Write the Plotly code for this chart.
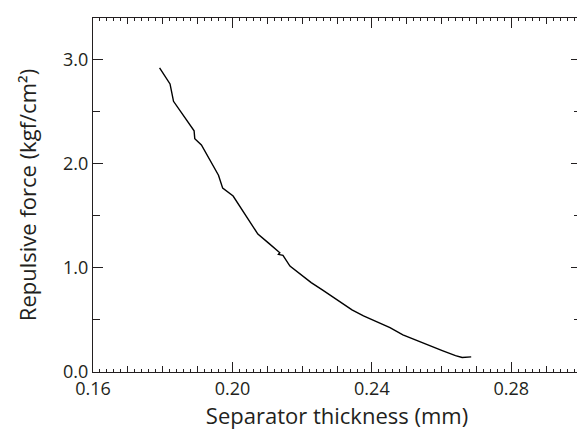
import plotly.graph_objects as go

# Data
thickness = [0.1791, 0.1821, 0.1831, 0.1890, 0.1892, 0.1911, 0.1960, 0.1972,
             0.2002, 0.2073, 0.2103, 0.2136, 0.2132, 0.2145, 0.2165, 0.2198,
             0.2205, 0.2226, 0.2259, 0.2292, 0.2320, 0.2343, 0.2376, 0.2414,
             0.2452, 0.2489, 0.2527, 0.2564, 0.2602, 0.2640, 0.2659, 0.2685]
force = [2.92, 2.767, 2.60, 2.317, 2.24, 2.18, 1.89, 1.766,
         1.69, 1.325, 1.24, 1.145, 1.13, 1.12, 1.017, 0.934,
         0.915, 0.859, 0.786, 0.711, 0.655, 0.596, 0.539, 0.479,
         0.426, 0.357, 0.305, 0.252, 0.206, 0.158, 0.140, 0.145]

x_major = [0.16, 0.20, 0.24, 0.28]
x_mid = [round(0.16 + 0.01 * i, 2) for i in range(15)]
x_labels = ["0.16", "0.20", "0.24", "0.28"]
y_major = [0.0, 1.0, 2.0, 3.0]
y_mid = [0.0, 0.5, 1.0, 1.5, 2.0, 2.5, 3.0]
y_labels = ["0.0", "1.0", "2.0", "3.0"]

X_RANGE = [0.16, 0.30]
Y_RANGE = [0.0, 3.4]
INK = "#231f20"
FONT = dict(family="Open Sans", size=18, color=INK)

fig = go.Figure()
fig.add_trace(go.Scatter(x=thickness, y=force, mode="lines",
                         line=dict(color="black", width=1.4),
                         showlegend=False, hoverinfo="skip"))
# empty traces to activate overlay axes
for xa, ya in [("x2", "y"), ("x3", "y"), ("x4", "y"),
               ("x", "y2"), ("x", "y3"), ("x", "y4")]:
    fig.add_trace(go.Scatter(x=[], y=[], xaxis=xa, yaxis=ya, showlegend=False))

mid_text = [next((lab for v, lab in zip(x_major, x_labels) if abs(v - t) < 1e-9), "")
            for t in x_mid]
ymid_text = [next((lab for v, lab in zip(y_major, y_labels) if abs(v - t) < 1e-9), "")
             for t in y_mid]

common = dict(showgrid=False, zeroline=False, ticks="inside", tickcolor=INK,
              tickwidth=1, automargin=False)

fig.update_layout(
    width=585, height=429,
    margin=dict(l=85, r=12, t=10, b=65),
    paper_bgcolor="white", plot_bgcolor="white",
    font=FONT,
    xaxis=dict(range=X_RANGE, tickvals=x_mid, ticktext=mid_text, ticklen=6,
               minor=dict(dtick=0.002, tick0=0.16, ticks="inside", ticklen=3,
                          tickcolor=INK, tickwidth=1, showgrid=False),
               showline=True, linecolor=INK, linewidth=1, mirror=True,
               title=dict(text="Separator thickness (mm)", standoff=0),
               tickfont=FONT, **common),
    xaxis2=dict(range=X_RANGE, overlaying="x", anchor="y", side="bottom",
                tickvals=x_major, ticklen=10, showticklabels=False, showline=False, **common),
    xaxis3=dict(range=X_RANGE, overlaying="x", anchor="y", side="top",
                tickvals=x_mid, ticklen=6, showticklabels=False, showline=False,
                minor=dict(dtick=0.002, tick0=0.16, ticks="inside", ticklen=3,
                           tickcolor=INK, tickwidth=1, showgrid=False),
                **common),
    xaxis4=dict(range=X_RANGE, overlaying="x", anchor="y", side="top",
                tickvals=x_major, ticklen=10, showticklabels=False, showline=False, **common),
    yaxis=dict(range=Y_RANGE, tickvals=y_mid, ticktext=ymid_text, ticklen=7,
               showline=True, linecolor=INK, linewidth=1, mirror=True,
               title=dict(text="Repulsive force (kgf/cm²)", standoff=20),
               tickfont=FONT, **common),
    yaxis2=dict(range=Y_RANGE, overlaying="y", anchor="x", side="left",
                tickvals=y_major, ticklen=10, showticklabels=False, showline=False, **common),
    yaxis3=dict(range=Y_RANGE, overlaying="y", anchor="x", side="right",
                tickvals=y_mid, ticklen=7, showticklabels=False, showline=False, **common),
    yaxis4=dict(range=Y_RANGE, overlaying="y", anchor="x", side="right",
                tickvals=y_major, ticklen=10, showticklabels=False, showline=False, **common),
)

fig.write_html("out.html")
